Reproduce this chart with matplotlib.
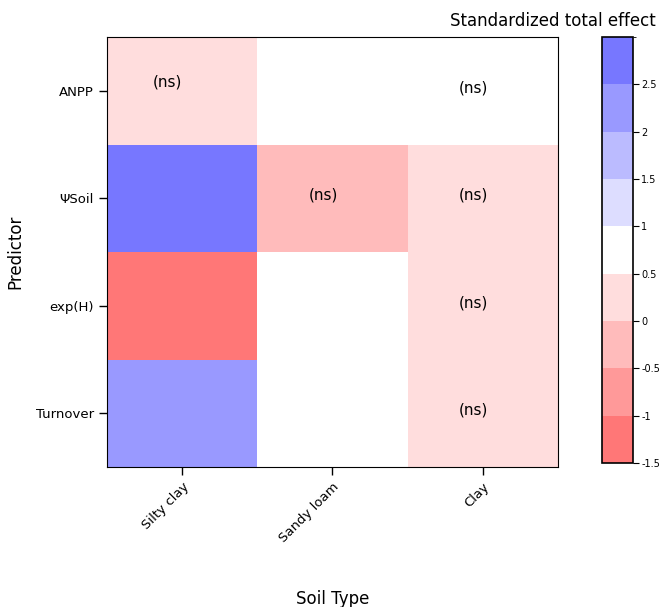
import numpy as np
import matplotlib.pyplot as plt
from matplotlib.colors import ListedColormap, BoundaryNorm

soil_types = ["Silty clay", "Sandy loam", "Clay"]
predictors = ["ANPP", "\u03a8Soil", "exp(H)", "Turnover"]

# standardized total effects, rows = predictors, cols = soil types (nan = not tested)
effects = np.array([
    [0.25, np.nan, 0.75],
    [2.75, -0.25, 0.25],
    [-1.25, np.nan, 0.25],
    [2.25, np.nan, 0.25],
])
ns_flags = [
    [True, False, True],
    [False, True, True],
    [False, False, True],
    [False, False, True],
]

levels = [-1.5, -1, -0.5, 0, 0.5, 1, 1.5, 2, 2.5, 3]
colors = ["#FF7777", "#FF9999", "#FFBBBB", "#FFDDDD", "#FFFFFF",
          "#DDDDFF", "#BBBBFF", "#9999FF", "#7777FF"]
cmap = ListedColormap(colors)
norm = BoundaryNorm(levels, cmap.N)

fig = plt.figure(figsize=(6.62, 6.07), dpi=100)
ax = fig.add_axes([0.1616, 0.2306, 0.681, 0.708])
cax = fig.add_axes([0.909, 0.237, 0.047, 0.702])

mesh = ax.pcolormesh(np.arange(4) - 0.5, np.arange(5) - 0.5, effects,
                     cmap=cmap, norm=norm)
ax.set_xlim(-0.5, 2.5)
ax.set_ylim(3.5, -0.5)

x_shift = [-0.1, -0.06, -0.06]
for i in range(len(predictors)):
    for j in range(len(soil_types)):
        if ns_flags[i][j]:
            dy = -0.08 if (i, j) == (0, 0) else -0.03
            ax.text(j + x_shift[j], i + dy, "(ns)", ha="center", va="center",
                    fontsize=11)

ax.set_xticks(range(len(soil_types)))
ax.set_xticklabels(soil_types, rotation=45, ha="right", rotation_mode="anchor",
                   fontsize=9.5)
ax.set_yticks(range(len(predictors)))
ax.set_yticklabels(predictors, fontsize=9.5)
ax.tick_params(length=6, width=1)
ax.set_xlabel("Soil Type", fontsize=12)
ax.xaxis.set_label_coords(0.5, -0.285)
ax.set_ylabel("Predictor", fontsize=12, labelpad=8)

cb = fig.colorbar(mesh, cax=cax, ticks=levels[:-1])
cb.ax.set_yticklabels(["-1.5", "-1", "-0.5", "0", "0.5", "1", "1.5", "2", "2.5"])
cb.ax.tick_params(labelsize=7, length=4, pad=2)
cb.outline.set_linewidth(1.2)
fig.text(0.99, 0.965, "Standardized total effect", ha="right", va="center",
         fontsize=12)

fig.savefig("out.png", dpi=100)
